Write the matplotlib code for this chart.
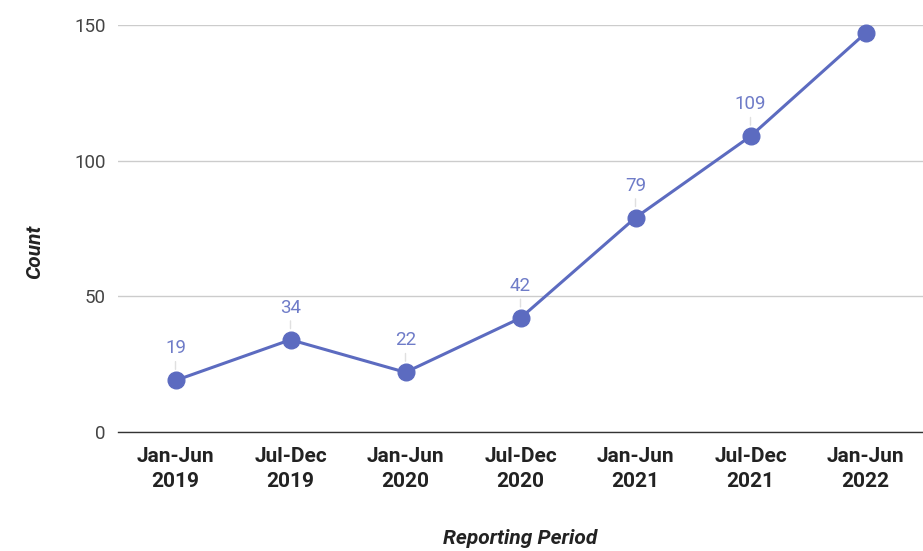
import matplotlib.pyplot as plt

plt.rcParams['font.family'] = ['Roboto', 'DejaVu Sans']

periods = ['Jan-Jun\n2019', 'Jul-Dec\n2019', 'Jan-Jun\n2020', 'Jul-Dec\n2020',
           'Jan-Jun\n2021', 'Jul-Dec\n2021', 'Jan-Jun\n2022']
counts = [19, 34, 22, 42, 79, 109, 147]
y_ticks = [0, 50, 100, 150]

line_color = '#5c6bc0'

fig = plt.figure(figsize=(9.23, 5.51), dpi=100)
ax = fig.add_axes([118 / 923, 1 - 432 / 551, 1 - 118 / 923, (432 - 25) / 551])

x = list(range(len(counts)))
ax.plot(x, counts, color=line_color, linewidth=2.2, marker='o', markersize=12,
        zorder=5, clip_on=False)

# data labels (the last one falls off the top of the chart)
for xi, v in zip(x[:-1], counts[:-1]):
    ax.annotate(str(v), xy=(xi, v), xytext=(0, 23), textcoords='offset pixels',
                ha='center', va='bottom', fontsize=13.5, color='#6f7cc8',
                arrowprops=dict(arrowstyle='-', color='#e0e0e0', lw=1,
                                shrinkA=1, shrinkB=8))

ax.set_xlim(-0.5, len(counts) - 0.5)
ax.set_ylim(0, 150)
ax.set_yticks(y_ticks)
ax.set_xticks(x)
ax.set_xticklabels(periods, fontsize=15, fontweight='bold', color='#222222',
                   linespacing=1.38)
ax.tick_params(axis='y', labelsize=13.5, labelcolor='#444444', length=0, pad=9)
ax.tick_params(axis='x', length=0, pad=11)

ax.grid(axis='y', color='#cccccc', linewidth=1)
ax.set_axisbelow(True)
for s in ['top', 'right', 'left']:
    ax.spines[s].set_visible(False)
ax.spines['bottom'].set_color('#333333')
ax.spines['bottom'].set_linewidth(1)

ax.set_ylabel('Count', fontsize=15, fontweight='bold', fontstyle='italic',
              color='#222222')
ax.yaxis.set_label_coords(-0.092, 0.442)
ax.set_xlabel('Reporting Period', fontsize=15, fontweight='bold',
              fontstyle='italic', color='#222222')
ax.xaxis.set_label_coords(0.5, -0.238)

fig.savefig('out.png', dpi=100)
